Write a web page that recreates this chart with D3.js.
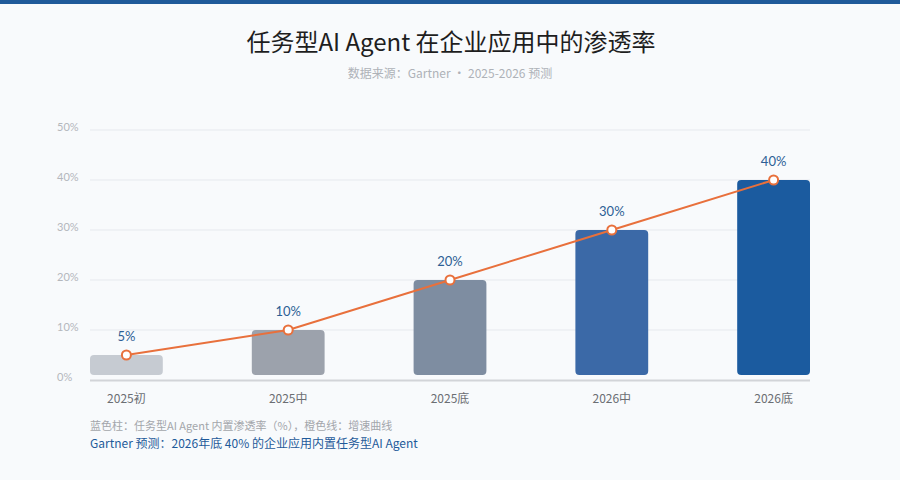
<!DOCTYPE html>
<html>
<head>
<meta charset="utf-8">
<script src="https://cdn.jsdelivr.net/npm/d3@7"></script>
<style>
  html, body { margin: 0; padding: 0; background: #f8fafc; }
  body { width: 900px; height: 480px; overflow: hidden; font-family: "Noto Sans CJK SC", "Noto Sans", sans-serif; }
</style>
</head>
<body>
<div id="chart"></div>
<script>
const categories = ['2025初', '2025中', '2025底', '2026中', '2026底'];
const penetration = [5, 10, 20, 30, 40];
const barColors = ['#c6cbd2', '#9ca2ac', '#7e8da1', '#3b69a7', '#1b5b9f'];
const yTicks = [0, 10, 20, 30, 40, 50];

function createChart() {
    const W = 900, H = 480;
    const plot = {left: 90, right: 810, top: 130, bottom: 380};

    const svg = d3.select('#chart')
        .append('svg')
        .attr('width', W)
        .attr('height', H);

    svg.append('rect')
        .attr('width', W).attr('height', H)
        .attr('fill', '#f8fafc');

    // 顶部色条
    svg.append('rect')
        .attr('width', W).attr('height', 4)
        .attr('fill', '#1f5a9a');

    // 标题
    svg.append('text')
        .attr('x', 451).attr('y', 51)
        .attr('text-anchor', 'middle')
        .attr('fill', '#1e1e1e')
        .style('font-size', '24px')
        .style('font-weight', 400)
        .text('任务型AI Agent 在企业应用中的渗透率');

    svg.append('text')
        .attr('x', 450).attr('y', 78)
        .attr('text-anchor', 'middle')
        .attr('fill', '#aeb2b8')
        .style('font-size', '12px')
        .text('数据来源：Gartner ·   2025-2026 预测');

    // 比例尺
    const x = d3.scaleBand()
        .domain(categories)
        .range([plot.left, plot.right])
        .paddingInner(0.55)
        .paddingOuter(0);

    const y = d3.scaleLinear()
        .domain([0, 50])
        .range([plot.bottom, plot.top]);

    // 网格线
    svg.append('g')
        .selectAll('line')
        .data(yTicks.filter(d => d > 0))
        .enter()
        .append('line')
        .attr('x1', plot.left).attr('x2', plot.right)
        .attr('y1', d => y(d)).attr('y2', d => y(d))
        .attr('stroke', '#e6e9ee')
        .attr('stroke-width', 1);

    // Y 轴标签
    svg.append('g')
        .selectAll('text')
        .data(yTicks)
        .enter()
        .append('text')
        .attr('x', 57)
        .attr('y', d => y(d) + 1)
        .attr('fill', '#b4b7bc')
        .style('font-size', '11px')
        .style('font-family', 'Lato, "Noto Sans", sans-serif')
        .text(d => d + '%');

    // 基线
    svg.append('line')
        .attr('x1', plot.left).attr('x2', plot.right)
        .attr('y1', plot.bottom + 0.5).attr('y2', plot.bottom + 0.5)
        .attr('stroke', '#d2d4d8')
        .attr('stroke-width', 2);

    // 柱子（圆角）
    svg.append('g')
        .selectAll('rect')
        .data(penetration)
        .enter()
        .append('rect')
        .attr('x', (d, i) => x(categories[i]))
        .attr('y', d => y(d))
        .attr('width', x.bandwidth())
        .attr('height', d => y(0) - 5 - y(d))
        .attr('rx', 4)
        .attr('fill', (d, i) => barColors[i]);

    // 折线
    const line = d3.line()
        .x((d, i) => x(categories[i]) + x.bandwidth() / 2)
        .y(d => y(d));

    svg.append('path')
        .datum(penetration)
        .attr('d', line)
        .attr('fill', 'none')
        .attr('stroke', '#e8703c')
        .attr('stroke-width', 2);

    svg.append('g')
        .selectAll('circle')
        .data(penetration)
        .enter()
        .append('circle')
        .attr('cx', (d, i) => x(categories[i]) + x.bandwidth() / 2)
        .attr('cy', d => y(d))
        .attr('r', 4.5)
        .attr('fill', '#fff')
        .attr('stroke', '#e8703c')
        .attr('stroke-width', 2);

    // 数值标签
    svg.append('g')
        .selectAll('text')
        .data(penetration)
        .enter()
        .append('text')
        .attr('x', (d, i) => x(categories[i]) + x.bandwidth() / 2)
        .attr('y', d => y(d) - 14)
        .attr('text-anchor', 'middle')
        .attr('fill', '#2d5f95')
        .style('font-size', '13px')
        .style('font-family', 'Lato, "Noto Sans", sans-serif')
        .text(d => d + '%');

    // X 轴标签
    svg.append('g')
        .selectAll('text')
        .data(categories)
        .enter()
        .append('text')
        .attr('x', d => x(d) + x.bandwidth() / 2)
        .attr('y', 403)
        .attr('text-anchor', 'middle')
        .attr('fill', '#6b6e73')
        .style('font-size', '12px')
        .text(d => d);

    // 注释
    svg.append('text')
        .attr('x', 90).attr('y', 430)
        .attr('fill', '#a3a6ab')
        .style('font-size', '11px')
        .text('蓝色柱：任务型AI Agent 内置渗透率（%），橙色线：增速曲线');

    svg.append('text')
        .attr('x', 90).attr('y', 448)
        .attr('fill', '#1f5a9a')
        .style('font-size', '12px')
        .text('Gartner 预测：2026年底 40% 的企业应用内置任务型AI Agent');
}

createChart();
</script>
</body>
</html>
